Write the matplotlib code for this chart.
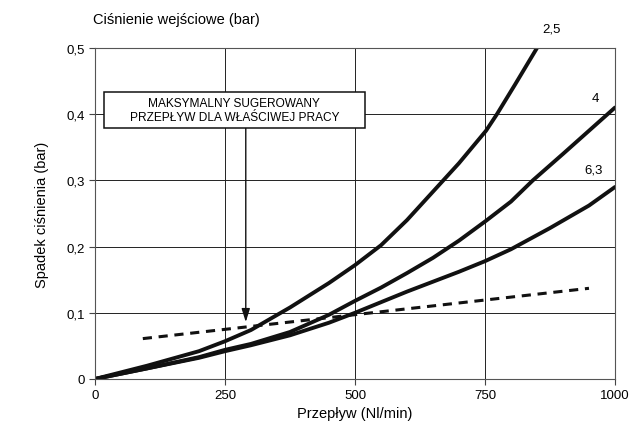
import matplotlib
matplotlib.use('Agg')
import matplotlib.pyplot as plt
from matplotlib.patches import Rectangle

plt.rcParams['font.family'] = ['Liberation Sans', 'DejaVu Sans']

# pressure drop curves for each inlet pressure (bar)
flow_25 = [0, 100, 200, 250, 300, 375, 450, 500, 550, 600, 650, 700, 752, 773, 808, 850]
drop_25 = [0, 0.02, 0.042, 0.057, 0.074, 0.108, 0.145, 0.172, 0.202, 0.24, 0.283, 0.326, 0.375, 0.4, 0.445, 0.5]
flow_4 = [0, 100, 200, 250, 300, 375, 450, 500, 550, 600, 650, 700, 752, 800, 842, 900, 950, 1000]
drop_4 = [0, 0.016, 0.033, 0.044, 0.053, 0.071, 0.097, 0.118, 0.138, 0.16, 0.183, 0.209, 0.239, 0.268, 0.3, 0.34, 0.375, 0.41]
flow_63 = [0, 100, 200, 250, 300, 375, 450, 500, 550, 600, 650, 700, 750, 800, 875, 950, 1000]
drop_63 = [0, 0.016, 0.032, 0.042, 0.051, 0.066, 0.085, 0.1, 0.116, 0.132, 0.147, 0.162, 0.178, 0.196, 0.228, 0.262, 0.29]
# maximum suggested flow line
limit_flow = [92, 950]
limit_drop = [0.061, 0.137]

curve_labels = ['2,5', '4', '6,3']
label_pos = [(877, 0.53), (962, 0.424), (958, 0.317)]

fig = plt.figure(figsize=(6.34, 4.39), dpi=100)
ax = fig.add_axes([0.1498, 0.1344, 0.8202, 0.754])

for x, y in [(flow_25, drop_25), (flow_4, drop_4), (flow_63, drop_63)]:
    ax.plot(x, y, color='#111111', lw=2.8, solid_capstyle='round', solid_joinstyle='round')
ax.plot(limit_flow, limit_drop, color='#111111', lw=2.2, dashes=(3, 2.2))

for lab, (px, py) in zip(curve_labels, label_pos):
    ax.text(px, py, lab, fontsize=9.5, ha='center', va='center', clip_on=False)

ax.set_xlim(0, 1000)
ax.set_ylim(0, 0.5)
ax.set_xticks([0, 250, 500, 750, 1000])
ax.set_yticks([0, 0.1, 0.2, 0.3, 0.4, 0.5])
ax.set_yticklabels(['0', '0,1', '0,2', '0,3', '0,4', '0,5'])
ax.tick_params(labelsize=9.5, direction='out', length=4, width=0.8, color='#444444')
ax.grid(True, color='#222222', lw=0.7)
for s in ax.spines.values():
    s.set_color('#555555')
    s.set_linewidth(0.8)

# note box with arrow
ax.add_patch(Rectangle((17, 0.379), 502, 0.055, fc='white', ec='#111111', lw=1.1, zorder=4))
ax.text(268, 0.4065, 'MAKSYMALNY SUGEROWANY\nPRZEPŁYW DLA WŁAŚCIWEJ PRACY',
        fontsize=8.6, ha='center', va='center', linespacing=1.25, zorder=5)
ax.annotate('', xy=(290, 0.086), xytext=(290, 0.379),
            arrowprops=dict(arrowstyle='-|>,head_width=0.25,head_length=0.8', color='#111111', lw=1.0,
                            shrinkA=0, shrinkB=0))

ax.set_xlabel('Przepływ (Nl/min)', fontsize=10.5, labelpad=3)
ax.set_ylabel('Spadek ciśnienia (bar)', fontsize=10.5, labelpad=12)
fig.text(0.147, 0.955, 'Ciśnienie wejściowe (bar)', fontsize=10.5, ha='left', va='center')

fig.savefig('out.png', dpi=100)
